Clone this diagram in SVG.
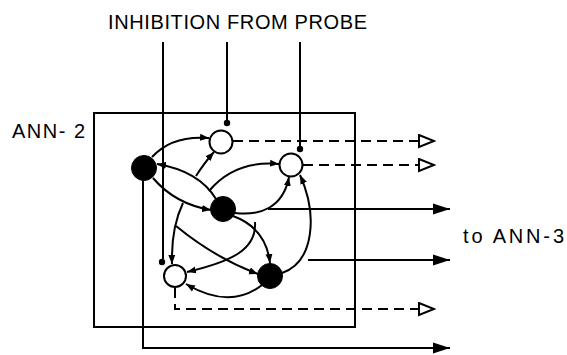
<svg xmlns="http://www.w3.org/2000/svg" width="567" height="355" viewBox="0 0 567 355">
<style>
.t{font-family:"Liberation Sans",Arial,sans-serif;font-size:20px;fill:#000}
.ln{fill:none;stroke:#000;stroke-width:2}
.dash{fill:none;stroke:#000;stroke-width:2;stroke-dasharray:10 6}
.e{fill:none;stroke:#000;stroke-width:2;marker-end:url(#ah)}
.on{fill:#fff;stroke:#000;stroke-width:2}
.fn{fill:#000;stroke:#000;stroke-width:1}
</style>
<defs>
<marker id="ah" markerUnits="userSpaceOnUse" markerWidth="10" markerHeight="8" refX="9" refY="4" orient="auto">
<path d="M0,0.5 L9,4 L0,7.5 Z" fill="#000"/>
</marker>
<marker id="fa" markerUnits="userSpaceOnUse" markerWidth="18" markerHeight="12" refX="17" refY="6" orient="auto">
<path d="M0,0.5 L17,6 L0,11.5 Z" fill="#000"/>
</marker>
<marker id="oa" markerUnits="userSpaceOnUse" markerWidth="18" markerHeight="15" refX="16" refY="7.5" orient="auto">
<path d="M1,1.5 L16,7.5 L1,13.5 Z" fill="#fff" stroke="#000" stroke-width="2" stroke-dasharray="none" stroke-linejoin="miter"/>
</marker>
</defs>

<g id="labels">
<text class="t" x="108" y="29" textLength="259" lengthAdjust="spacing">INHIBITION FROM PROBE</text>
<text class="t" x="12" y="138" textLength="73" lengthAdjust="spacing">ANN- 2</text>
<text class="t" x="463" y="243" textLength="101" lengthAdjust="spacing">to ANN-3</text>
</g>

<g id="ann2-box">
<rect x="94" y="113" width="261" height="214" fill="none" stroke="#000" stroke-width="2"/>
</g>

<g id="connectors">
<!-- inhibition lines -->
<path class="ln" d="M163,42 V259"/>
<path class="ln" d="M227,42 V121"/>
<path class="ln" d="M300,42 V147"/>
<circle cx="162" cy="262" r="3.2" fill="#000"/>
<circle cx="227" cy="123" r="3.2" fill="#000"/>
<circle cx="300" cy="149" r="3.2" fill="#000"/>

<!-- internal connections -->
<path class="e" d="M152,157 Q172,135 209,138"/>
<path class="e" d="M216,199 Q199,171 157,164"/>
<path class="e" d="M153,178 Q175,204 211,210"/>
<path class="e" d="M196,176 Q205,162 214,152"/>
<path class="e" d="M209,191 Q235,160 279,164"/>
<path class="e" d="M235,213 C260,216 283,208 289,177"/>
<path class="e" d="M282,273 C314,262 318,215 300,175"/>
<path class="e" d="M233,216 Q266,228 270,263"/>
<path class="e" d="M255,222 C257,250 230,262 187,272"/>
<path class="e" d="M183,203 Q171,228 172,264"/>
<path class="e" d="M176,226 Q215,258 258,274"/>
<path class="e" d="M262,285 Q230,310 186,284"/>

<!-- outputs -->
<path class="dash" d="M233,141 H434" marker-end="url(#oa)"/>
<path class="dash" d="M303,165 H434" marker-end="url(#oa)"/>
<path class="ln" d="M268,209 H450" marker-end="url(#fa)"/>
<path class="ln" d="M308,260 H450" marker-end="url(#fa)"/>
<path class="dash" d="M175,288 V309 H434" marker-end="url(#oa)"/>
<path class="ln" d="M143,180 V348 H450" marker-end="url(#fa)"/>
</g>

<g id="node-A"><circle class="fn" cx="144" cy="168" r="12.5"/></g>
<g id="node-B"><circle class="on" cx="221" cy="142" r="11.5"/></g>
<g id="node-C"><circle class="on" cx="291" cy="165" r="11.5"/></g>
<g id="node-D"><circle class="fn" cx="223" cy="209" r="12.5"/></g>
<g id="node-E"><circle class="on" cx="175" cy="276" r="11"/></g>
<g id="node-F"><circle class="fn" cx="270" cy="276" r="12.5"/></g>
</svg>
